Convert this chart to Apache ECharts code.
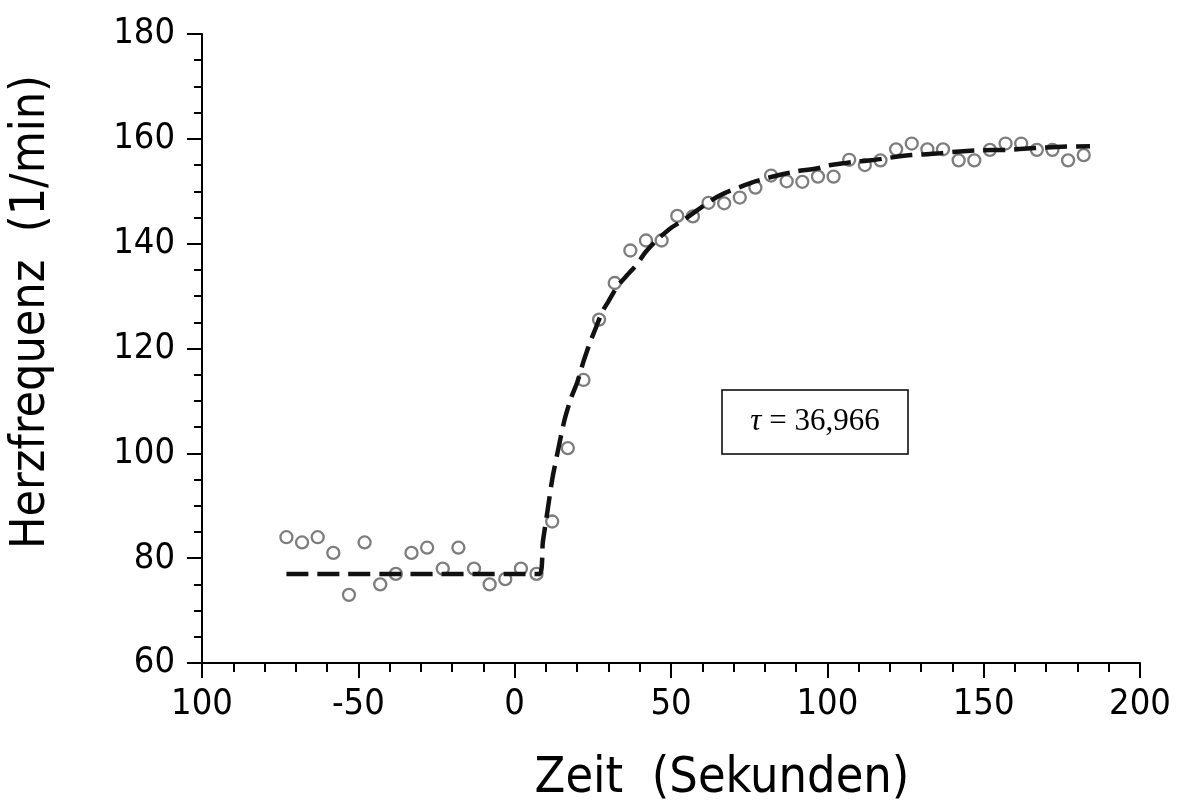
<!DOCTYPE html>
<html>
<head>
<meta charset="utf-8">
<title>Herzfrequenz</title>
<script src="https://cdn.jsdelivr.net/npm/echarts@6/dist/echarts.min.js"></script>
<style>
  html, body { margin: 0; padding: 0; background: #ffffff; }
  #chart { width: 1183px; height: 809px; }
</style>
</head>
<body>
<div id="chart"></div>
<script>
// Measured heart rate (beats per minute) against time (s)
const timeSec = [-73, -68, -63, -58, -53, -48, -43, -38, -33, -28, -23, -18, -13, -8, -3, 2, 7, 12, 17, 22,
  27, 32, 37, 42, 47, 52, 57, 62, 67, 72, 77, 82, 87, 92, 97, 102, 107, 112, 117, 122,
  127, 132, 137, 142, 147, 152, 157, 162, 167, 172, 177, 182];
const heartRate = [84, 83, 84, 81, 73, 83, 75, 77, 81, 82, 78, 82, 78, 75, 76, 78, 77, 87, 101, 114,
  125.5, 132.5, 138.7, 140.6, 140.6, 145.3, 145.2, 147.8, 147.7, 148.8, 150.7, 153, 151.9, 151.8, 152.8, 152.8, 156, 155, 155.9, 158,
  159.1, 158, 158, 155.9, 155.9, 157.9, 159.1, 159.1, 157.9, 157.9, 155.9, 156.9];

// Fitted response curve (dashed)
const fitTime = [-73, 8, 9, 10.5, 12, 14, 16, 18, 20, 22, 24, 26, 28, 30, 33, 36, 39, 42, 46, 50,
  54, 58, 63, 67, 72, 76, 80, 86, 90, 97, 100, 106, 110, 114, 120, 127, 135, 140, 148, 158, 165, 175, 184];
const fitRate = [77, 77, 83, 89, 95, 101, 106.5, 110.5, 113.5, 117.5, 121, 124, 127, 129, 132, 134, 136, 138.5, 141, 143,
  144.5, 146.2, 148.3, 149.6, 150.8, 151.7, 152.4, 153.3, 153.8, 154.4, 154.9, 155.4, 155.7, 155.9, 156.4, 156.9, 157.2, 157.5, 157.8, 157.9, 158.2, 158.5, 158.6];

// Axis tick labels (x from -100 to 200, step 50)
const xTickLabels = ['100', '-50', '0', '50', '100', '150', '200'];
const yTickLabels = ['60', '80', '100', '120', '140', '160', '180'];

const tauText = '36,966';

const tickFont = '"DejaVu Sans Condensed", "DejaVu Sans", sans-serif';

const chart = echarts.init(document.getElementById('chart'), null, { renderer: 'canvas' });

const scatterData = timeSec.map((t, i) => [t, heartRate[i]]);
const fitData = fitTime.map((t, i) => [t, fitRate[i]]);

chart.setOption({
  backgroundColor: '#ffffff',
  animation: false,
  grid: { left: 202, right: 43, top: 34, bottom: 146, containLabel: false },
  xAxis: {
    type: 'value',
    min: -100, max: 200, interval: 50,
    axisLine: { show: true, onZero: false, lineStyle: { color: '#000', width: 2 } },
    axisTick: { show: true, inside: false, length: 15, lineStyle: { color: '#000', width: 2 } },
    minorTick: { show: true, splitNumber: 5, length: 9, lineStyle: { color: '#000', width: 2 } },
    splitLine: { show: false },
    axisLabel: {
      margin: 24,
      color: '#000',
      fontFamily: tickFont,
      fontSize: 36,
      formatter: v => xTickLabels[Math.round((v + 100) / 50)]
    }
  },
  yAxis: {
    type: 'value',
    min: 60, max: 180, interval: 20,
    axisLine: { show: true, onZero: false, lineStyle: { color: '#000', width: 2 } },
    axisTick: { show: true, inside: false, length: 15, lineStyle: { color: '#000', width: 2 } },
    minorTick: { show: true, splitNumber: 4, length: 8, lineStyle: { color: '#000', width: 2 } },
    splitLine: { show: false },
    axisLabel: {
      margin: 27,
      color: '#000',
      fontFamily: tickFont,
      fontSize: 36,
      formatter: v => yTickLabels[Math.round((v - 60) / 20)]
    }
  },
  series: [
    {
      name: 'Messwerte',
      type: 'scatter',
      data: scatterData,
      symbol: 'circle',
      symbolSize: 12,
      itemStyle: { color: '#ffffff', borderColor: '#5c5c5c', borderWidth: 2.3 },
      z: 2
    },
    {
      name: 'Anpassung',
      type: 'line',
      data: fitData,
      symbol: 'none',
      smooth: 0.2,
      lineStyle: { color: '#111', width: 4.5, type: [22, 9], cap: 'butt' },
      z: 3
    }
  ],
  graphic: [
    {
      type: 'text',
      x: 32, y: 312,
      rotation: Math.PI / 2,
      style: {
        text: 'Herzfrequenz  (1/min)',
        font: '48px "DejaVu Sans Condensed", sans-serif',
        fill: '#000',
        align: 'center',
        verticalAlign: 'middle'
      }
    },
    {
      type: 'text',
      x: 722, y: 779,
      style: {
        text: 'Zeit  (Sekunden)',
        font: '50px "DejaVu Sans Condensed", sans-serif',
        fill: '#000',
        align: 'center',
        verticalAlign: 'middle'
      }
    },
    {
      type: 'rect',
      shape: { x: 722, y: 390, width: 186, height: 64 },
      style: { fill: '#ffffff', stroke: '#000', lineWidth: 1.5 }
    },
    {
      type: 'text',
      x: 815, y: 422,
      style: {
        text: '{i|τ} = ' + tauText,
        align: 'center',
        verticalAlign: 'middle',
        fill: '#000',
        font: '31px "Liberation Serif", "DejaVu Serif", serif',
        rich: {
          i: { fontStyle: 'italic', fontFamily: '"Liberation Serif", serif', fontSize: 31, fill: '#000' }
        }
      }
    }
  ]
});
</script>
</body>
</html>
